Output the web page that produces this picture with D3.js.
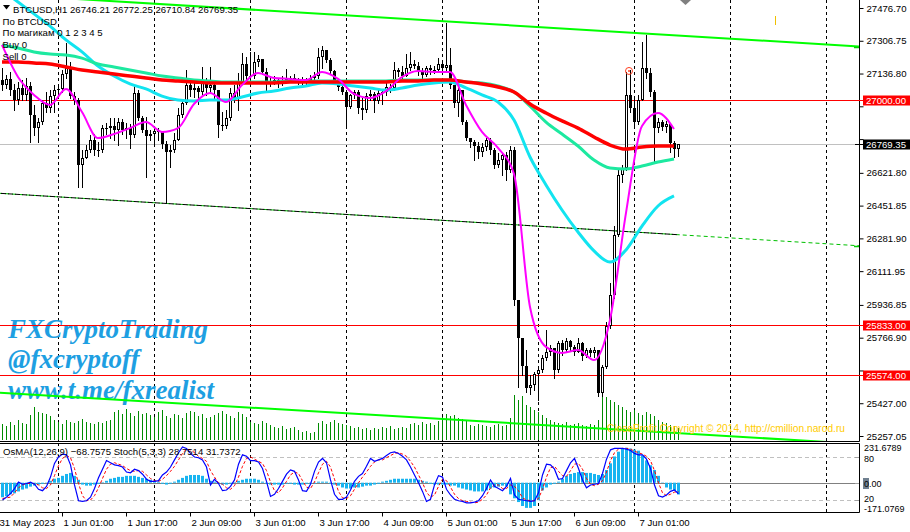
<!DOCTYPE html>
<html><head><meta charset="utf-8">
<script src="https://cdn.jsdelivr.net/npm/d3@7"></script>
<style>
body{margin:0;background:#fff;}
svg{display:block;font-family:"Liberation Sans",Arial,sans-serif;}
</style></head><body>
<svg id="c" width="910" height="532"></svg>
<script>
// ---------------- DATA ----------------
const symbol = "BTCUSD,H1";
const firstTime = "2023-05-31T10:00Z";   // first visible H1 bar
const firstOpen = 27103;
const closes = [
27077,27108,27051,26999,27062,27025,27072,26922,26854,26885,
26984,26958,27020,27051,27056,27134,27165,27020,26999,26662,
26699,26740,26792,26740,26740,26854,26854,26865,26844,26885,
26844,26854,26818,27036,26906,26844,26813,26823,26839,26833,
26771,26730,26740,26792,26922,26984,27077,27051,27062,27041,
27103,27062,27077,27051,26870,26865,26906,27036,27010,27088,
27186,27124,27124,27197,27212,27145,27082,27093,27103,27082,
27103,27108,27114,27103,27098,27103,27103,27114,27124,27223,
27259,27207,27150,27098,27067,27041,26963,27025,27041,26958,
26948,27020,27031,26994,27036,27041,27067,27062,27155,27145,
27124,27165,27186,27176,27145,27129,27165,27155,27155,27186,
27165,27181,27077,26984,27051,26885,26802,26782,26761,26730,
26756,26792,26740,26662,26688,26714,26637,26740,25962,25765,
25620,25506,25521,25579,25599,25662,25693,25713,25599,25739,
25703,25750,25719,25693,25739,25672,25703,25687,25703,25480,
25615,25828,25988,26299,26611,26647,27025,26958,26885,26999,
27165,27139,27041,26854,26885,26859,26875,26777,26746.21,26769.35];
const highs = [
27165,27129,27145,27082,27093,27103,27114,27093,26973,26906,
26999,27041,27051,27077,27072,27155,27295,27197,27041,27010,
26740,26766,26818,26823,26782,26870,26880,26906,26906,26906,
26901,26880,26875,27077,27051,26916,26911,26844,26854,26854,
26839,26787,26766,26828,26958,26999,27155,27093,27088,27072,
27171,27114,27171,27088,26999,26937,26948,27062,27077,27139,
27243,27222,27248,27248,27233,27207,27165,27114,27124,27114,
27124,27160,27124,27134,27114,27119,27114,27129,27145,27269,
27280,27259,27217,27155,27103,27077,27041,27031,27051,27051,
27010,27036,27051,27041,27051,27051,27088,27082,27197,27165,
27176,27238,27248,27207,27197,27165,27176,27181,27176,27217,
27191,27399,27269,27077,27072,27051,26896,26802,26792,26782,
26776,26802,26802,26751,26725,26725,26730,26761,26756,25962,
25765,25703,25573,25589,25620,25677,25807,25729,25677,25750,
25755,25765,25755,25729,25765,25745,25713,25713,25718,25703,
25625,25848,26050,26346,26637,26662,27145,27155,27010,27025,
27300,27337,27165,27051,26906,26896,26890,26880,26787,26772.25];
const lows = [
27051,27062,27025,26948,26979,26999,26999,26782,26818,26782,
26875,26937,26937,26937,27031,27041,27114,27010,26979,26548,
26548,26699,26730,26714,26709,26730,26823,26802,26792,26766,
26823,26802,26751,26808,26896,26833,26600,26792,26766,26792,
26751,26465,26652,26730,26792,26911,26979,27020,27015,26979,
27025,27025,27036,26999,26808,26844,26854,26896,26989,26948,
27082,27103,27114,27114,27176,27134,27051,27072,27082,27067,
27077,27093,27093,27093,27082,27082,27082,27093,27093,27114,
27165,27197,27140,27088,27051,27031,26854,26958,27010,26932,
26901,26937,26999,26937,26984,26979,27025,27041,27051,27124,
27114,27124,27155,27165,27129,27114,27124,27134,27140,27145,
27155,27145,27062,26963,26916,26875,26792,26756,26688,26699,
26709,26740,26719,26647,26652,26611,26585,26626,25936,25511,
25574,25485,25475,25496,25444,25589,25651,25677,25558,25589,
25677,25693,25703,25677,25703,25651,25667,25672,25667,25464,
25464,25610,25817,25973,26294,26574,26637,26937,26870,26875,
26999,27114,27020,26678,26833,26844,26833,26730,26704,26710.84];
const volumes = [
640,560,720,600,800,680,640,1000,1320,1120,1080,1040,960,800,
720,640,800,720,680,760,840,720,680,640,720,680,760,800,
1120,1200,1040,1240,1080,960,1160,1040,
1080,1000,920,1120,1200,960,880,1040,1000,880,
1080,1160,1120,960,1040,880,920,1000,1080,1160,1040,960,880,1120,1040,920,
720,680,640,760,680,600,
520,480,560,440,480,520,400,
320,360,280,320,
680,760,640,720,800,680,640,600,560,
480,520,440,480,400,480,440,520,480,560,440,480,520,480,
640,680,600,720,640,680,600,760,
920,1040,960,1000,880,840,800,
600,560,640,600,560,520,600,640,560,600,
880,1800,1600,1760,1400,
1320,1200,1120,1000,880,800,720,
680,640,720,600,640,680,600,560,640,600,800,
1800,1720,1600,1520,1400,1320,1200,1120,
1200,1080,1000,1120,1040,960,
800,720,680,600,560,480];
// moving averages, one reading every 4th bar
const maEvery = 4;
const maMagenta = [27285,27119,27026,26974,27057,26937,26802,26823,26854,26885,
26834,26854,26979,27036,26989,27077,27140,27114,27109,27103,
27145,27109,27031,27010,27046,27119,27150,27145,27145,26974,
26834,26751,26616,25926,25719,25688,25703,25651,25859,26414,
26865,26932,26849];
const maCyan = [27570,27508,27446,27383,27311,27249,27176,27124,27083,27057,
27020,26999,26994,26999,26999,27015,27036,27046,27062,27072,
27088,27083,27072,27062,27051,27062,27077,27088,27093,27062,
27026,26989,26896,26704,26559,26429,26315,26217,26159,26222,
26346,26450,26502];
const maGreen = [27285,27269,27249,27238,27233,27217,27186,27171,27155,27140,
27124,27114,27103,27098,27093,27093,27093,27093,27098,27098,
27098,27098,27098,27098,27098,27103,27103,27103,27103,27093,
27088,27072,27041,26968,26885,26823,26761,26688,26647,26642,
26657,26678,26694];
const maRed = [27197,27197,27191,27186,27171,27155,27145,27134,27124,27114,
27103,27098,27093,27088,27088,27088,27088,27088,27093,27093,
27093,27093,27093,27093,27093,27098,27098,27103,27103,27093,
27083,27067,27041,26979,26932,26891,26854,26808,26766,26745,
26756,26761,26761];
const osma = [
-85,-79,-68,-62,-51,-40,-34,-23,-17,-11,
-6,-2,11,23,28,40,51,57,40,17,
-11,-17,-17,-11,-6,3,11,23,28,34,
34,40,40,40,34,28,23,17,11,6,
-6,-11,-6,6,17,28,40,45,45,45,
40,23,11,6,-6,-11,-11,-6,3,11,
17,23,23,23,17,6,-6,-11,-11,-11,
-11,-6,-6,-11,-11,-11,-6,-6,-6,6,
6,6,-6,-11,-17,-28,-34,-34,-28,-28,
-23,-17,-17,-11,-6,6,11,17,23,23,
23,23,23,23,17,11,6,-6,-11,-11,
-11,-11,-17,-17,-28,-34,-40,-45,-51,-51,
-51,-45,-34,-28,-23,-17,-23,-68,-91,-113,
-136,-147,-147,-136,-102,-45,-28,-11,-6,6,
23,40,51,57,62,62,57,57,51,45,
51,74,113,153,181,199,204,199,193,187,
159,130,102,74,40,2,-28,-40,-45,-68.7575];
const stochMain = [
20,24,29,36,45,42,43,45,42,35,
33,39,52,71,80,84,83,69,41,19,
18,19,24,36,51,63,75,72,69,68,
66,59,58,63,61,56,49,46,46,47,
55,59,66,76,86,94,92,85,80,79,
76,66,41,49,43,33,34,39,48,70,
83,81,75,75,73,64,46,25,28,36,
46,56,62,60,48,33,32,42,60,73,
78,72,48,28,21,21,24,34,46,53,
57,67,78,74,76,78,82,86,87,85,
81,76,66,55,44,32,18,21,41,54,
52,35,27,21,19,18,16,16,17,19,
26,36,48,39,36,33,39,50,27,21,
20,19,18,19,30,55,70,69,63,49,
50,61,72,78,64,48,37,41,42,43,
57,77,90,92,92,92,91,89,85,83,
83,77,64,41,26,24,27,32,34,28.7514];
const stochSignal = [
22,23,24,30,37,41,43,43,43,41,
37,36,41,54,68,78,82,79,64,43,
26,19,20,26,37,50,63,70,72,70,
68,64,61,60,61,60,55,50,47,46,
49,54,60,67,76,85,91,90,86,81,
78,74,61,52,44,42,37,35,40,52,
67,78,80,77,74,71,61,45,33,30,
37,46,55,59,57,47,38,36,45,58,
70,74,66,49,32,23,22,26,35,44,
52,59,67,73,76,76,79,82,85,86,
84,81,74,66,55,44,31,24,27,39,
49,47,38,28,22,19,18,17,16,17,
21,27,37,41,41,36,36,41,39,33,
23,20,19,19,22,35,52,65,67,60,
54,53,61,70,71,63,50,42,40,42,
47,59,75,86,91,92,92,91,88,86,
84,81,75,61,44,30,26,28,31,31.7372];
const priceTicks = [27476.70,27306.75,27136.80,26966.85,26796.90,26621.80,26451.85,26281.90,26111.95,25936.85,25766.90,25596.95,25427.00,25257.05];
const timeTicks = ["2023-05-31T09:00Z","2023-06-01T01:00Z","2023-06-01T17:00Z","2023-06-02T09:00Z","2023-06-03T01:00Z","2023-06-03T17:00Z","2023-06-04T09:00Z","2023-06-05T01:00Z","2023-06-05T17:00Z","2023-06-06T09:00Z","2023-06-07T01:00Z"];
const levelLines = [27000, 25833, 25574];
// trend lines: price at first bar and at last bar
const trendTop = [27547, 27334];
const trendMid = [26515, 26301];
const trendBot = [25481, 25272];
const oscMax = 231.6789, oscMin = -171.0769;
const stochLevels = [80, 20];
const watermark = ["FXCryptoTrading", "@fxcryptoff", "www.t.me/fxrealist"];
const infoLines = ["По BTCUSD", "По магикам 0 1 2 3 4 5", "Buy 0", "Sell 0"];
const copyright = "CloseProfit Copyright © 2014, http://cmillion.narod.ru";

// ---------------- LAYOUT ----------------
const R = 859, mainB = 441, oscT = 443, oscB = 512;
const svg = d3.select("#c");
svg.append("rect").attr("width",910).attr("height",532).attr("fill","#fff");

const n = closes.length;
const t0 = new Date(firstTime);
const barTime = i => new Date(+t0 + i*3600e3);
const x = d3.scaleUtc().domain([t0, barTime(n-1)]).range([2, 678]);
const y = d3.scaleLinear().domain([25257.05, 27476.70]).range([436, 8]);
const yOs = d3.scaleLinear().domain([oscMin, oscMax]).range([oscB, oscT]);
const ySt = d3.scaleLinear().domain([20, 80]).range([500, 457]);
const yVol = d3.scaleLinear().domain([0, 1800]).range([440, 395]);
const bx = i => Math.round(x(barTime(i)));
const opens = closes.map((c,i)=> i===0 ? firstOpen : closes[i-1]);
const lastClose = closes[n-1];

const defs = svg.append("defs");
defs.append("clipPath").attr("id","cm").append("rect").attr("x",0).attr("y",0).attr("width",R).attr("height",mainB);
defs.append("clipPath").attr("id","co").append("rect").attr("x",0).attr("y",oscT).attr("width",R).attr("height",oscB-oscT);

const main = svg.append("g").attr("clip-path","url(#cm)");
const osc = svg.append("g").attr("clip-path","url(#co)");

// day grid
const days = d3.utcDay.range(new Date("2023-05-31T00:00Z"), new Date("2023-06-10T00:00Z"));
[ [main,0,mainB], [osc,oscT,oscB] ].forEach(([g,a,b])=>{
  g.selectAll(null).data(days.filter(d=>x(d)>0 && x(d)<R)).join("line")
    .attr("x1",d=>Math.round(x(d))+0.5).attr("x2",d=>Math.round(x(d))+0.5)
    .attr("y1",a).attr("y2",b).attr("stroke","#000").attr("stroke-dasharray","3,3").attr("stroke-width",1);
});

// volumes
main.selectAll(null).data(volumes).join("line")
  .attr("x1",(d,i)=>bx(i)+0.5).attr("x2",(d,i)=>bx(i)+0.5)
  .attr("y1",440).attr("y2",d=>yVol(d)).attr("stroke","#008c00").attr("stroke-width",1);

// watermark
main.selectAll(null).data(watermark).join("text")
  .attr("x",8).attr("y",(d,i)=>[338,368,399][i])
  .attr("font-family","'Liberation Serif','Times New Roman',serif").attr("font-style","italic").attr("font-weight","bold")
  .attr("font-size",27).attr("fill","#1e9fe2").text(d=>d);

// levels
main.selectAll(null).data(levelLines).join("line")
  .attr("x1",0).attr("x2",R).attr("y1",d=>Math.round(y(d))+0.5).attr("y2",d=>Math.round(y(d))+0.5)
  .attr("stroke","#ff0000").attr("stroke-width",1);
main.append("line").attr("x1",0).attr("x2",R).attr("y1",Math.round(y(lastClose))+0.5).attr("y2",Math.round(y(lastClose))+0.5)
  .attr("stroke","#c0c0c0").attr("stroke-width",1);

// trend lines
const trendAt = (tr, i) => tr[0] + (tr[1]-tr[0]) * i/(n-1);
const rightBar = (R - 2)/4;
function trend(tr, from, to, attrs){
  const l = main.append("line").attr("x1",2+4*from).attr("x2",2+4*to)
    .attr("y1",y(trendAt(tr,from))).attr("y2",y(trendAt(tr,to)));
  Object.entries(attrs).forEach(([k,v])=>l.attr(k,v));
}
trend(trendMid, -1, rightBar, {stroke:"#00c000","stroke-width":1,"stroke-dasharray":"4,3"});
trend(trendMid, -1, n-1, {stroke:"#000","stroke-width":1,"stroke-dasharray":"5,2","stroke-dashoffset":4});

// candles
const cg = main.append("g");
for(let i=0;i<n;i++){
  const o=opens[i], c=closes[i];
  const h=Math.max(highs[i],o,c), l=Math.min(lows[i],o,c);
  const cx=bx(i);
  cg.append("line").attr("x1",cx+0.5).attr("x2",cx+0.5).attr("y1",Math.round(y(h))).attr("y2",Math.round(y(l))+1)
    .attr("stroke","#000").attr("stroke-width",1);
  const top=Math.round(y(Math.max(o,c))), bot=Math.round(y(Math.min(o,c)));
  if(c>=o){
    if(bot-top<2){ cg.append("rect").attr("x",cx-1).attr("y",top).attr("width",3).attr("height",Math.max(bot-top,1)).attr("fill","#000"); }
    else cg.append("rect").attr("x",cx-0.5).attr("y",top+0.5).attr("width",2).attr("height",bot-top-1)
      .attr("fill","#fff").attr("stroke","#000").attr("stroke-width",1);
  } else {
    cg.append("rect").attr("x",cx-1).attr("y",top).attr("width",3).attr("height",Math.max(bot-top,1)).attr("fill","#000");
  }
}

// moving averages
const maLine = d3.line().x((d,k)=>bx(k*maEvery)).y(d=>y(d)).curve(d3.curveMonotoneX);
[[maCyan,"#12e4f0",3],[maGreen,"#1de9a0",3],[maRed,"#ff0000",3.5],[maMagenta,"#ff00ff",2]].forEach(([arr,col,w])=>{
  main.append("path").attr("d",maLine(arr)).attr("fill","none").attr("stroke",col).attr("stroke-width",w);
});

// outer trend lines
trend(trendTop, -1, rightBar, {stroke:"#00ff00","stroke-width":2});
trend(trendBot, -1, rightBar, {stroke:"#00ff00","stroke-width":2});

// marker circle
main.append("circle").attr("cx",bx(157)-1).attr("cy",y(highs[156])-1).attr("r",3.5).attr("fill","none").attr("stroke","#ff4020").attr("stroke-width",1);
main.append("circle").attr("cx",bx(157)-1).attr("cy",y(highs[156])-1).attr("r",1).attr("fill","#ff4020");

// header / info text
const hdr = svg.append("g").attr("font-size",9.6).attr("fill","#000");
hdr.append("path").attr("d","M3,5 L10,5 L6.5,9.5 Z").attr("fill","#000");
const f2 = d3.format(".2f");
hdr.append("text").attr("x",13).attr("y",12.5)
  .text(`${symbol}  ${f2(opens[n-1])} ${f2(highs[n-1])} ${f2(lows[n-1])} ${f2(closes[n-1])}`);
hdr.selectAll(null).data(infoLines).join("text").attr("x",2.5).attr("y",(d,i)=>24.5+i*11.8).text(d=>d);

// copyright and small marks
svg.append("text").attr("x",607).attr("y",432).attr("font-size",10.2).attr("fill","#ffcc00").text(copyright);
svg.append("line").attr("x1",775.5).attr("x2",775.5).attr("y1",16).attr("y2",25).attr("stroke","#f0c000");
svg.append("path").attr("d","M680,0 L691,0 L685.5,5 Z").attr("fill","#808080");

// ---------------- OSCILLATOR ----------------
osc.selectAll(null).data(stochLevels).join("line")
  .attr("x1",0).attr("x2",R).attr("y1",d=>Math.round(ySt(d))+0.5).attr("y2",d=>Math.round(ySt(d))+0.5)
  .attr("stroke","#c0c0c0").attr("stroke-dasharray","4,3");
osc.append("line").attr("x1",0).attr("x2",R).attr("y1",Math.round(yOs(0))+0.5).attr("y2",Math.round(yOs(0))+0.5)
  .attr("stroke","#808080").attr("stroke-width",1);
osc.selectAll(null).data(osma).join("rect")
  .attr("x",(d,i)=>bx(i)-1).attr("width",3)
  .attr("y",d=>Math.min(yOs(d),yOs(0))).attr("height",d=>Math.abs(yOs(d)-yOs(0)))
  .attr("fill","#18b4f0");
const stLine = d3.line().x((d,i)=>bx(i)+0.5).y(d=>ySt(d));
osc.append("path").attr("d",stLine(stochSignal)).attr("fill","none").attr("stroke","#ff0000").attr("stroke-width",1).attr("stroke-dasharray","3,2");
osc.append("path").attr("d",stLine(stochMain)).attr("fill","none").attr("stroke","#0000ff").attr("stroke-width",1.2);
svg.append("text").attr("x",3).attr("y",454.5).attr("font-size",9.6)
  .text(`OsMA(12,26,9) ${d3.format(".4f")(osma[n-1])}  Stoch(5,3,3) ${d3.format(".4f")(stochMain[n-1])} ${d3.format(".4f")(stochSignal[n-1])}`);

// ---------------- FRAMES ----------------
const fr = svg.append("g").attr("stroke","#000").attr("stroke-width",1);
fr.append("line").attr("x1",0).attr("x2",R+0.5).attr("y1",mainB+0.5).attr("y2",mainB+0.5);
fr.append("line").attr("x1",R+0.5).attr("x2",R+0.5).attr("y1",0).attr("y2",mainB+0.5);
fr.append("line").attr("x1",0).attr("x2",R+0.5).attr("y1",oscT+0.5).attr("y2",oscT+0.5);
fr.append("line").attr("x1",0).attr("x2",R+0.5).attr("y1",oscB+0.5).attr("y2",oscB+0.5);
fr.append("line").attr("x1",R+0.5).attr("x2",R+0.5).attr("y1",oscT+0.5).attr("y2",oscB+0.5);

// ---------------- AXES ----------------
// labels hidden behind the price boxes are not printed (as in the terminal)
const boxPrices = levelLines.concat([lastClose]);
const hidden = v => boxPrices.some(p => Math.abs(y(p)-y(v)) < 7);
const ay = svg.append("g").attr("transform",`translate(${R+0.5},0)`)
  .call(d3.axisRight(y).tickValues(priceTicks).tickFormat(v => hidden(v) ? "" : f2(v)).tickSize(4).tickSizeOuter(0));
ay.select(".domain").remove();
ay.selectAll("text").attr("font-size",9.6).attr("font-family","'Liberation Sans',Arial,sans-serif").attr("x",7).attr("fill","#000");
ay.selectAll("line").attr("stroke","#000");

const ax = svg.append("g").attr("transform",`translate(0,${oscB+0.5})`)
  .call(d3.axisBottom(x).tickValues(timeTicks.map(d=>new Date(d))).tickSize(4).tickSizeOuter(0)
    .tickFormat((d,i)=> i===0 ? d3.utcFormat("%-d %b %Y")(d) : d3.utcFormat("%-d %b %H:%M")(d)));
ax.select(".domain").remove();
ax.selectAll("text").attr("font-size",9.6).attr("font-family","'Liberation Sans',Arial,sans-serif").attr("text-anchor","start").attr("x",1).attr("fill","#000");
ax.selectAll("line").attr("stroke","#000");

// price boxes on axis
function box(price, fill, col){
  const cy = Math.round(y(price));
  svg.append("line").attr("x1",R-4).attr("x2",R+4).attr("y1",cy+0.5).attr("y2",cy+0.5).attr("stroke",fill);
  svg.append("rect").attr("x",R+4).attr("y",cy-4.5).attr("width",910-R-4).attr("height",10).attr("fill",fill);
  svg.append("text").attr("x",R+7).attr("y",cy+4).attr("font-size",9.6).attr("fill",col).text(f2(price));
}
levelLines.forEach(p=>box(p,"#ff0000","#fff"));
box(lastClose,"#000","#fff");
// trend line ends on axis
[trendTop, trendMid].forEach(tr=>{
  const cy = Math.round(y(trendAt(tr, rightBar)));
  svg.append("line").attr("x1",R-5).attr("x2",R).attr("y1",cy+0.5).attr("y2",cy+0.5).attr("stroke","#00d000").attr("stroke-width",1.5);
});

// oscillator axis labels
const ol = svg.append("g").attr("font-size",9).attr("fill","#000");
[[oscMax.toFixed(4),450.5],["80",462],["20",501.5],[oscMin.toFixed(4),512]].forEach(([t,yy])=>ol.append("text").attr("x",R+5).attr("y",yy).text(t));
ol.append("rect").attr("x",R+4).attr("y",Math.round(yOs(0))-5).attr("width",6).attr("height",11).attr("fill","#708090");
ol.append("text").attr("x",R+5).attr("y",Math.round(yOs(0))+4).text("0.00");
[ySt(80),yOs(0),ySt(20)].forEach(v=>svg.append("line").attr("x1",R-4).attr("x2",R).attr("y1",Math.round(v)+0.5).attr("y2",Math.round(v)+0.5).attr("stroke","#a0a0a0"));
</script>
</body></html>
